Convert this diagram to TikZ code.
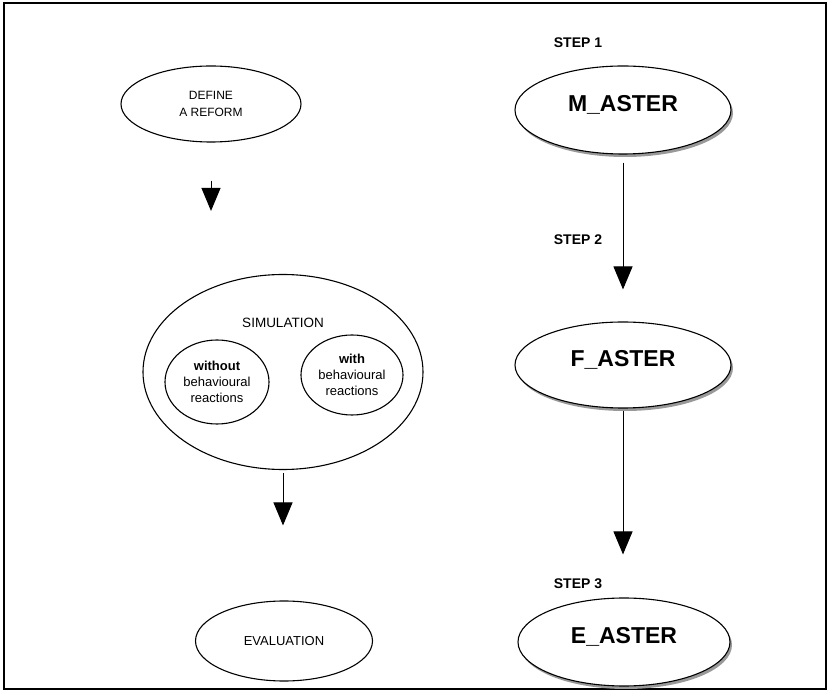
\documentclass[tikz,border=0pt]{standalone}
\usepackage{fontspec}
\setmainfont{Liberation Sans}
\usetikzlibrary{shapes.geometric,arrows.meta,shadows}
\begin{document}
\begin{tikzpicture}[x=1pt,y=-1pt]
      \tikzstyle{plain}=[ellipse,draw,line width=1.1pt,inner sep=0pt,align=center,fill=white,font=\fontsize{13}{16}\selectfont]
      \tikzstyle{aster}=[plain,drop shadow={shadow xshift=2pt,shadow yshift=-3pt,fill=black!40,opacity=1},font=\fontsize{23}{26}\selectfont\bfseries,text depth=14pt]
      \tikzstyle{steplabel}=[font=\fontsize{14}{16}\selectfont\bfseries]
      \tikzstyle{flow}=[line width=1pt,-{Triangle[width=19pt,length=23pt]}]
      \useasboundingbox (0,0) rectangle (831,700);
      \draw[line width=1.2pt] (4,3) rectangle (826,689);
      % steps
      \node[steplabel] (s1) at (578,43) {STEP 1};
      \node[steplabel] (s2) at (578,240) {STEP 2};
      \node[steplabel] (s3) at (578,584) {STEP 3};
      % left column
      \node[plain,minimum width=180pt,minimum height=76pt,font=\fontsize{12}{17}\selectfont] (define) at (211,104) {DEFINE\\A REFORM};
      \node[plain,minimum width=280pt,minimum height=195pt] (sim) at (283,372) {};
      \node[font=\fontsize{13.5}{16}\selectfont] (simlab) at (283,323) {SIMULATION};
      \node[plain,minimum width=104pt,minimum height=84pt] (without) at (217,382) {\textbf{without}\\behavioural\\reactions};
      \node[plain,minimum width=102pt,minimum height=80pt] (with) at (352,375) {\textbf{with}\\behavioural\\reactions};
      \node[plain,minimum width=177pt,minimum height=80pt] (eval) at (284,641) {EVALUATION};
      % right column
      \node[aster,minimum width=216pt,minimum height=88pt] (m) at (623,110) {M\_ASTER};
      \node[aster,minimum width=216pt,minimum height=86pt] (f) at (623,365) {F\_ASTER};
      \node[aster,minimum width=212pt,minimum height=88pt] (e) at (624,642) {E\_ASTER};
      % arrows
      \draw[flow,shorten <=38pt,shorten >=63pt] (define.south) -- (define.south |- sim.north);
      \draw[flow,shorten <=3pt,shorten >=75pt] (sim.south) -- (sim.south |- eval.north);
      \draw[flow,shorten <=8pt,shorten >=32pt] (m.south) -- (f.north);
      \draw[flow,shorten <=2pt,shorten >=43pt] (f.south) -- (f.south |- e.north);
\end{tikzpicture}
\end{document}
